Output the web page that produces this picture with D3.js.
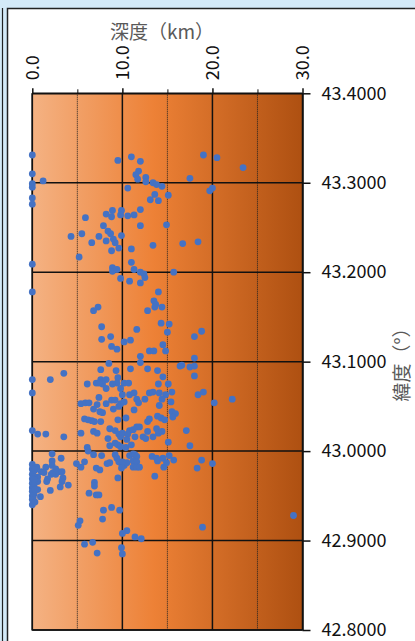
<!DOCTYPE html>
<html>
<head>
<meta charset="utf-8">
<script src="https://cdn.jsdelivr.net/npm/d3@7"></script>
<style>
  body { margin: 0; background: #d4eaf8; }
  svg { display: block; }
</style>
</head>
<body>
<svg id="chart"></svg>
<script>
// depth (km) and latitude (deg) of each hypocentre, same order in both arrays
const depthKm = [
  0.0, 0.0, 0.0, 0.0, 1.2, 0.0, 0.0, 0.0, 0.0, 9.5, 11.0, 12.0, 11.8, 11.5, 11.7, 12.6, 12.6, 13.4, 13.8, 14.4,
  17.5, 10.6, 13.6, 13.1, 14.0, 15.1, 5.9, 8.2, 8.8, 8.9, 9.9, 9.8, 10.6, 11.3, 12.0, 12.0, 14.9, 7.9, 8.4, 8.7,
  4.3, 5.5, 7.4, 6.6, 8.2, 9.0, 9.2, 9.6, 9.9, 8.8, 11.0, 13.4, 16.7, 18.4, 5.2, 8.9, 8.9, 9.4, 11.0, 11.3,
  12.0, 12.4, 12.5, 12.0, 9.8, 10.8, 15.7, 14.0, 13.5, 13.7, 13.6, 14.4, 12.8, 7.3, 6.8, 7.7, 11.6, 14.3, 15.2, 19.0,
  20.5, 23.4, 20.0, 19.7,
  7.7, 8.7, 8.8, 9.4, 10.2, 10.9, 14.5, 14.8, 13.0, 13.5, 15.0, 18.0, 18.8, 12.0, 12.0, 8.5, 7.6, 9.3, 10.9, 12.8,
  13.9, 14.5, 16.6, 16.4, 17.5, 18.0, 18.0, 18.0, 3.5, 2.0, 0.0, 0.0, 6.1, 7.1, 7.6, 8.2, 7.8, 8.2, 7.4, 9.5,
  9.4, 8.9, 10.2, 10.7, 14.0, 15.1, 9.8, 10.0, 10.8, 11.3, 11.6, 11.8, 12.5, 13.0, 13.4, 14.1, 14.8, 15.5, 14.4, 15.4,
  18.4, 19.0, 20.2, 22.2, 5.4, 5.9, 6.3, 7.4, 7.2, 6.8, 8.2, 8.8, 9.2, 9.0, 9.6, 9.8, 10.2, 11.3, 10.4, 9.5,
  7.8, 7.5, 5.8, 6.2, 6.6, 6.9, 7.6, 14.1, 13.9, 14.3, 14.7, 15.5, 15.9, 15.6, 13.0, 12.8, 5.4, 6.8, 7.2, 0.0,
  0.6, 1.5, 3.5, 8.6, 8.4, 8.6, 9.2, 9.6, 9.8, 9.2, 9.5, 9.8, 10.4, 10.0, 10.8, 10.6, 11.2, 11.6, 11.9, 11.4,
  12.3, 12.6, 13.4, 12.8, 13.8, 14.0, 14.4, 15.1, 17.1, 17.5, 10.5, 11.0, 6.1, 6.2,
  6.8, 7.7, 2.2, 3.2, 9.2, 9.4, 9.6, 9.9, 10.2, 10.8, 11.2, 11.4, 11.6, 11.2, 11.6, 11.2, 11.6, 10.5, 10.0, 11.9,
  9.9, 13.3, 13.8, 14.5, 13.9, 14.6, 14.9, 15.2, 15.7, 18.3, 18.8, 20.0, 8.6, 8.3, 7.5, 7.1, 4.9, 5.4, 5.8, 13.6,
  9.5, 6.9, 6.9, 6.3, 7.1, 7.4, 8.8, 7.9, 9.7, 7.8, 5.3, 5.1, 10.5, 10.0, 11.4, 12.1, 5.8, 6.7, 7.2, 9.9,
  10.0, 29.0, 18.9,
  2.2, 0.0, 0.5, 1.5, 2.2, 2.6, 1.0, 1.3, 2.1, 2.3, 2.6, 2.9, 3.4, 3.3, 4.0, 3.1, 1.7, 1.6, 0.6, 0.6,
  0.6, 0.9, 2.0, 0.0, 0.0, 0.1, 0.0, 0.2, 0.0, 0.1, 0.0, 0.2, 0.0, 0.1, 0.0, 0.2, 0.0, 0.1, 0.0, 0.3,
  0.2, 0.3, 0.3, 3.3
];
const latDeg = [
  43.331, 43.310, 43.299, 43.295, 43.302, 43.283, 43.276, 43.209, 43.178, 43.325, 43.329, 43.324, 43.313, 43.309, 43.304, 43.306, 43.301, 43.300, 43.298, 43.296,
  43.305, 43.294, 43.287, 43.281, 43.280, 43.286, 43.261, 43.265, 43.262, 43.269, 43.269, 43.264, 43.263, 43.264, 43.270, 43.252, 43.253, 43.252, 43.246, 43.243,
  43.240, 43.243, 43.240, 43.233, 43.235, 43.237, 43.233, 43.227, 43.241, 43.224, 43.226, 43.230, 43.232, 43.234, 43.217, 43.205, 43.201, 43.203, 43.211, 43.203,
  43.200, 43.198, 43.194, 43.188, 43.193, 43.190, 43.200, 43.178, 43.168, 43.164, 43.161, 43.161, 43.157, 43.161, 43.157, 43.139, 43.136, 43.143, 43.142, 43.331,
  43.328, 43.317, 43.294, 43.291,
  43.125, 43.128, 43.117, 43.114, 43.122, 43.124, 43.119, 43.112, 43.112, 43.112, 43.133, 43.128, 43.134, 43.106, 43.099, 43.098, 43.091, 43.090, 43.092, 43.092,
  43.090, 43.083, 43.096, 43.095, 43.094, 43.095, 43.084, 43.104, 43.087, 43.080, 43.080, 43.065, 43.075, 43.076, 43.080, 43.080, 43.075, 43.070, 43.076, 43.082,
  43.076, 43.075, 43.076, 43.076, 43.075, 43.075, 43.070, 43.063, 43.063, 43.065, 43.058, 43.054, 43.058, 43.065, 43.066, 43.065, 43.063, 43.066, 43.058, 43.055,
  43.063, 43.066, 43.054, 43.058, 43.053, 43.054, 43.054, 43.060, 43.052, 43.047, 43.053, 43.057, 43.057, 43.047, 43.050, 43.053, 43.055, 43.046, 43.037, 43.035,
  43.043, 43.044, 43.036, 43.035, 43.034, 43.033, 43.033, 43.051, 43.039, 43.037, 43.035, 43.044, 43.042, 43.038, 43.036, 43.033, 43.020, 43.022, 43.020, 43.023,
  43.019, 43.019, 43.016, 43.025, 43.014, 43.006, 43.023, 43.019, 43.016, 43.009, 43.007, 43.005, 43.004, 43.020, 43.023, 43.019, 43.024, 43.027, 43.027, 43.016,
  43.016, 43.014, 43.016, 43.022, 43.025, 43.020, 43.022, 43.010, 43.023, 43.006, 43.013, 43.007, 43.004, 43.000,
  42.996, 42.995, 42.997, 42.992, 42.996, 42.992, 42.988, 42.986, 42.984, 42.995, 42.997, 42.996, 42.994, 42.989, 42.988, 42.982, 42.982, 42.987, 42.988, 42.982,
  42.981, 42.994, 42.992, 42.992, 42.989, 42.982, 42.987, 42.995, 42.990, 42.981, 42.990, 42.986, 42.987, 42.986, 42.979, 42.981, 42.986, 42.982, 42.988, 42.972,
  42.970, 42.965, 42.961, 42.953, 42.951, 42.951, 42.937, 42.934, 42.934, 42.924, 42.922, 42.917, 42.911, 42.908, 42.904, 42.902, 42.896, 42.898, 42.886, 42.892,
  42.885, 42.928, 42.915,
  42.989, 42.985, 42.982, 42.982, 42.984, 42.980, 42.977, 42.976, 42.974, 42.976, 42.974, 42.977, 42.970, 42.966, 42.962, 42.960, 42.969, 42.966, 42.971, 42.966,
  42.957, 42.949, 42.956, 42.940, 42.980, 42.977, 42.974, 42.971, 42.969, 42.966, 42.964, 42.961, 42.959, 42.957, 42.955, 42.952, 42.950, 42.948, 42.946, 42.943,
  42.968, 42.979, 42.957, 42.977
];

const depthTicks = [0, 10, 20, 30];
const depthMinorTicks = [5, 15, 25];
const latTicks = [42.8, 42.9, 43.0, 43.1, 43.2, 43.3, 43.4];

const width = 415, height = 641;
const plot = { left: 32.3, right: 302.5, top: 93.3, bottom: 630 };

const x = d3.scaleLinear([0, 30], [plot.left, plot.right]);
const y = d3.scaleLinear([42.8, 43.4], [plot.bottom, plot.top]);

const svg = d3.select("#chart")
    .attr("width", width)
    .attr("height", height)
    .attr("viewBox", [0, 0, width, height])
    .style("font-family", "'Noto Sans CJK JP', sans-serif");

// outer frame: pale blue page edge, white panel with a dark border
svg.append("rect").attr("width", width).attr("height", height).attr("fill", "#d4eaf8");
svg.append("rect").attr("x", 7).attr("y", 8).attr("width", width - 7).attr("height", height - 8).attr("fill", "#fff");
svg.append("path").attr("d", `M7.5,${height}V8.5H${width}`).attr("fill", "none").attr("stroke", "#222").attr("stroke-width", 1.5);
svg.append("line").attr("x1", 2.5).attr("x2", 2.5).attr("y1", 8).attr("y2", height).attr("stroke", "#222").attr("stroke-width", 1.2);

// horizontal colour ramp behind the plot
const grad = svg.append("defs").append("linearGradient").attr("id", "bg");
grad.append("stop").attr("offset", "0%").attr("stop-color", "#f4b283");
grad.append("stop").attr("offset", "45%").attr("stop-color", "#ed8136");
grad.append("stop").attr("offset", "100%").attr("stop-color", "#ae5011");

svg.append("rect")
    .attr("x", plot.left).attr("y", plot.top)
    .attr("width", plot.right - plot.left).attr("height", plot.bottom - plot.top)
    .attr("fill", "url(#bg)");

// grid
svg.append("g")
    .selectAll("line")
    .data(latTicks)
    .join("line")
    .attr("x1", plot.left).attr("x2", plot.right)
    .attr("y1", d => y(d)).attr("y2", d => y(d))
    .attr("stroke", "#111").attr("stroke-width", 1.5);

svg.append("g")
    .selectAll("line")
    .data(depthTicks)
    .join("line")
    .attr("x1", d => x(d)).attr("x2", d => x(d))
    .attr("y1", plot.top).attr("y2", plot.bottom)
    .attr("stroke", "#111").attr("stroke-width", 1.5);

svg.append("g")
    .selectAll("line")
    .data(depthMinorTicks)
    .join("line")
    .attr("x1", d => x(d)).attr("x2", d => x(d))
    .attr("y1", plot.top).attr("y2", plot.bottom)
    .attr("stroke", "#222").attr("stroke-width", 1)
    .attr("stroke-dasharray", "1,1");

// top axis (depth)
svg.append("g")
    .attr("transform", `translate(0,${plot.top})`)
    .call(d3.axisTop(x).tickValues(depthTicks).tickSize(5).tickSizeOuter(0).tickFormat(d3.format(".1f")))
    .call(g => g.select(".domain").attr("stroke", "#111").attr("stroke-width", 1.5))
    .call(g => g.selectAll(".tick line").attr("stroke", "#111").attr("stroke-width", 1.5))
    .call(g => g.selectAll("text")
        .attr("transform", "rotate(-90)")
        .attr("x", 13).attr("y", 0).attr("dy", "0.35em")
        .style("text-anchor", "start")
        .attr("fill", "#111")
        .style("font-size", "18px")
        .style("font-family", "'Noto Sans CJK JP', sans-serif"));

svg.append("g")
    .attr("transform", `translate(0,${plot.top})`)
    .call(d3.axisTop(x).tickValues(depthMinorTicks).tickSize(4).tickSizeOuter(0).tickFormat(""))
    .call(g => g.select(".domain").remove())
    .call(g => g.selectAll(".tick line").attr("stroke", "#111"));

// right axis (latitude)
svg.append("g")
    .attr("transform", `translate(${plot.right},0)`)
    .call(d3.axisRight(y).tickValues(latTicks).tickSize(8).tickPadding(11).tickSizeOuter(0).tickFormat(d3.format(".4f")))
    .call(g => g.select(".domain").attr("stroke", "#111").attr("stroke-width", 1.5))
    .call(g => g.selectAll(".tick line").attr("stroke", "#111").attr("stroke-width", 1.5))
    .call(g => g.selectAll("text")
        .attr("fill", "#111")
        .style("font-size", "18px")
        .style("font-family", "'Noto Sans CJK JP', sans-serif"));

// left and bottom edges of the plot box
svg.append("path")
    .attr("d", `M${plot.left},${plot.top}V${plot.bottom}H${plot.right}`)
    .attr("fill", "none").attr("stroke", "#111").attr("stroke-width", 1.5);

// hypocentres
svg.append("g")
    .selectAll("circle")
    .data(d3.range(depthKm.length))
    .join("circle")
    .attr("cx", i => x(depthKm[i]))
    .attr("cy", i => y(latDeg[i]))
    .attr("r", 3.4)
    .attr("fill", "#4472c4");

// axis titles
svg.append("text")
    .attr("x", 162).attr("y", 39)
    .attr("text-anchor", "middle")
    .attr("fill", "#595959")
    .style("font-size", "19px")
    .text("深度（km）");

svg.append("text")
    .attr("transform", "translate(402,360) rotate(-90)")
    .attr("text-anchor", "middle")
    .attr("dy", "0.35em")
    .attr("fill", "#595959")
    .style("font-size", "19px")
    .text("緯度（°）");
</script>
</body>
</html>
